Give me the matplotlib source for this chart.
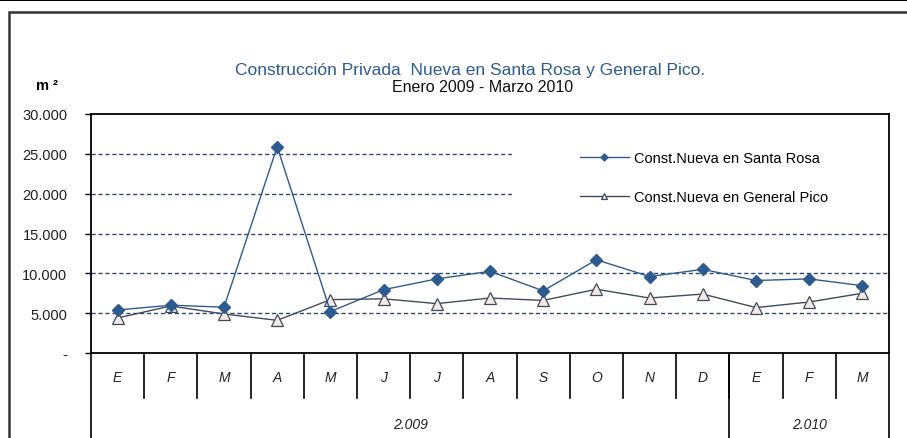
import matplotlib.pyplot as plt
import matplotlib.transforms as mtransforms
from matplotlib.lines import Line2D
from matplotlib.patches import Rectangle

plt.rcParams['font.family'] = ['Liberation Sans', 'DejaVu Sans']

meses = ['E', 'F', 'M', 'A', 'M', 'J', 'J', 'A', 'S', 'O', 'N', 'D', 'E', 'F', 'M']
anios = ['2.009', '2.010']
meses_por_anio = [12, 3]
santa_rosa = [5400, 6000, 5750, 25900, 5200, 7950, 9300, 10250, 7800, 11700, 9600, 10500, 9100, 9300, 8450]
general_pico = [4400, 5900, 4900, 4100, 6700, 6800, 6200, 6900, 6600, 8000, 6900, 7400, 5700, 6400, 7500]
yticks = [0, 5000, 10000, 15000, 20000, 25000, 30000]
ytick_labels = ['-', '5.000', '10.000', '15.000', '20.000', '25.000', '30.000']

azul = '#2E5B8E'
gris = '#3F4A5E'

fig = plt.figure(figsize=(9.07, 4.39), dpi=100)
W, H = 907, 439
ax = fig.add_axes([91 / W, 1 - 354 / H, (889 - 91) / W, (354 - 115) / H])

x = list(range(len(meses)))
ax.plot(x, santa_rosa, color=azul, lw=1.0, marker='D', ms=6, mfc=azul, mec=azul,
        label='Const.Nueva en Santa Rosa', zorder=4)
ax.plot(x, general_pico, color=gris, lw=1.0, marker='^', ms=8, mfc='#F3E8E2', mec=gris,
        mew=0.9, label='Const.Nueva en General Pico', zorder=3)

ax.set_xlim(-0.5, len(meses) - 0.5)
ax.set_ylim(0, 30000)
ax.set_yticks(yticks)
ax.set_yticklabels(ytick_labels, fontsize=10.5, color='#222222')
ax.tick_params(axis='y', direction='out', length=4, width=1, pad=13)
ax.set_xticks([])
for v in yticks[1:-1]:
    ax.axhline(v, color='#2E4A70', lw=1.0, ls=(0, (3, 2)), zorder=1)
for s in ax.spines.values():
    s.set_linewidth(1.3)
    s.set_color('black')
    s.set_zorder(6)

# eje de categorias en dos niveles
trans = mtransforms.blended_transform_factory(ax.transData, ax.transAxes)
alto = 354 - 115
low_month = -(399 - 354) / alto
low_year = -(439 - 354) / alto
for i in range(1, len(meses)):
    ax.add_line(Line2D([i - 0.5, i - 0.5], [0, low_month], transform=trans,
                       color='black', lw=1.2, clip_on=False))
for i, m in enumerate(meses):
    ax.text(i, -(378 - 354) / alto, m, transform=trans, ha='center', va='center',
            fontsize=10, style='italic', color='#222222')
inicio = 0
for anio, n in zip(anios, meses_por_anio):
    ax.add_line(Line2D([inicio - 0.5, inicio - 0.5], [0, low_year], transform=trans,
                       color='black', lw=1.2, clip_on=False))
    ax.text(inicio + (n - 1) / 2, -(425 - 354) / alto, anio, transform=trans,
            ha='center', va='center', fontsize=10, style='italic', color='#222222')
    inicio += n
ax.add_line(Line2D([inicio - 0.5, inicio - 0.5], [0, low_year], transform=trans,
                   color='black', lw=1.2, clip_on=False))

# fondo blanco de la leyenda (corta las lineas de division)
ancho = 889 - 91
ax.add_patch(Rectangle(((512 - 91) / ancho, (354 - 215) / alto), (888 - 512) / ancho, 80 / alto,
                       transform=ax.transAxes, facecolor='white', edgecolor='none', zorder=2))
leg = ax.legend(loc='upper left', bbox_to_anchor=((568 - 91) / ancho, (354 - 140) / alto),
                frameon=False, fontsize=10.5, handlelength=3.4, handletextpad=0.3,
                labelspacing=1.75, borderpad=0.3, markerscale=0.6)
leg.set_zorder(5)

fig.text(470 / W, 1 - 70 / H, 'Construcción Privada  Nueva en Santa Rosa y General Pico.',
         ha='center', va='center', fontsize=12.5, color=azul)
fig.text(483 / W, 1 - 87 / H, 'Enero 2009 - Marzo 2010', ha='center', va='center',
         fontsize=11.5, color='#111111')
fig.text(36 / W, 1 - 86 / H, 'm ²', ha='left', va='center', fontsize=10.5, weight='bold')

# marco exterior
fig.add_artist(Line2D([0, 1], [1 - 1 / H, 1 - 1 / H], transform=fig.transFigure, color='black', lw=1.5))
fig.add_artist(Rectangle((9 / W, -0.01), 1, 1 - 13 / H + 0.01, transform=fig.transFigure,
                         fill=False, edgecolor='#333333', lw=1.8))

fig.savefig('out.png', dpi=100)
